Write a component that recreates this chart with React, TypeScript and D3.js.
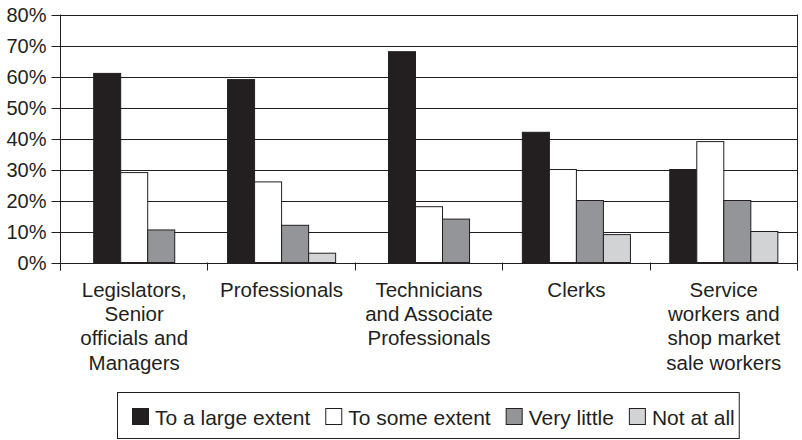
import React, { useEffect, useRef } from "react";
import * as d3 from "d3";

// Occupational groups along the x axis (one label line per array entry)
const categories: string[][] = [
  ["Legislators,", "Senior", "officials and", "Managers"],
  ["Professionals"],
  ["Technicians", "and Associate", "Professionals"],
  ["Clerks"],
  ["Service", "workers and", "shop market", "sale workers"],
];

const seriesNames = ["To a large extent", "To some extent", "Very little", "Not at all"];
const seriesColors = ["#231f20", "#ffffff", "#939598", "#d1d3d4"];

// Percentages per group; null means no bar for that group
const largeExtent: (number | null)[] = [61, 59, 68, 42, 30];
const someExtent: (number | null)[] = [29, 26, 18, 30, 39];
const veryLittle: (number | null)[] = [10.5, 12, 14, 20, 20];
const notAtAll: (number | null)[] = [null, 3, null, 9, 10];

const yTicks = [0, 10, 20, 30, 40, 50, 60, 70, 80];

const W = 802;
const H = 440;
const INK = "#231f20";
const FONT = "'Liberation Sans', Arial, Helvetica, sans-serif";

export default function App() {
  const ref = useRef<SVGSVGElement>(null);

  useEffect(() => {
    const svg = d3.select(ref.current!);
    svg.selectAll("*").remove();

    const left = 60.5;
    const right = 797.5;
    const top = 14.5;
    const bottom = 262.5;

    const series = [largeExtent, someExtent, veryLittle, notAtAll];
    const keys = categories.map((c) => c.join(" "));

    const x0 = d3.scaleBand<string>().domain(keys).range([left, right]).padding(0);
    const y = d3.scaleLinear().domain([0, 80]).range([bottom, top]);
    const barW = x0.bandwidth() * 0.1833;

    // horizontal gridlines with short outer ticks
    svg
      .append("g")
      .selectAll("line")
      .data(yTicks)
      .join("line")
      .attr("x1", left - 9)
      .attr("x2", right)
      .attr("y1", (d) => Math.round(y(d)) + 0.5)
      .attr("y2", (d) => Math.round(y(d)) + 0.5)
      .attr("stroke", INK)
      .attr("stroke-width", 1);

    // y tick labels
    svg
      .append("g")
      .selectAll("text")
      .data(yTicks)
      .join("text")
      .attr("x", left - 14)
      .attr("y", (d) => y(d))
      .attr("dy", "0.36em")
      .attr("text-anchor", "end")
      .attr("font-family", FONT)
      .attr("font-size", 20)
      .attr("fill", INK)
      .text((d) => `${d}%`);

    // bars, each group centred on its category using only the bars it has
    const barsG = svg.append("g");
    keys.forEach((k, ci) => {
      const present = series
        .map((s, si) => ({ si, v: s[ci] }))
        .filter((d) => d.v !== null) as { si: number; v: number }[];
      const center = (x0(k) as number) + x0.bandwidth() / 2;
      const x1 = d3
        .scaleBand<number>()
        .domain(present.map((d) => d.si))
        .range([center - (present.length * barW) / 2, center + (present.length * barW) / 2])
        .padding(0);
      barsG
        .append("g")
        .selectAll("rect")
        .data(present)
        .join("rect")
        .attr("x", (d) => x1(d.si) as number)
        .attr("width", x1.bandwidth())
        .attr("y", (d) => y(d.v))
        .attr("height", (d) => y(0) - y(d.v))
        .attr("fill", (d) => seriesColors[d.si])
        .attr("stroke", INK)
        .attr("stroke-width", 1);
    });

    // axes frame: left axis, right edge, category ticks
    const boundaries = [...keys.map((k) => x0(k) as number), right];
    svg
      .append("g")
      .selectAll("line")
      .data(boundaries)
      .join("line")
      .attr("x1", (d) => Math.round(d - 0.5) + 0.5)
      .attr("x2", (d) => Math.round(d - 0.5) + 0.5)
      .attr("y1", bottom)
      .attr("y2", bottom + 8)
      .attr("stroke", INK);
    svg
      .append("line")
      .attr("x1", left)
      .attr("x2", left)
      .attr("y1", top)
      .attr("y2", bottom + 8)
      .attr("stroke", INK);
    svg
      .append("line")
      .attr("x1", right)
      .attr("x2", right)
      .attr("y1", top)
      .attr("y2", bottom + 8)
      .attr("stroke", INK);
    svg
      .append("line")
      .attr("x1", left)
      .attr("x2", right)
      .attr("y1", Math.round(y(0)) + 0.5)
      .attr("y2", Math.round(y(0)) + 0.5)
      .attr("stroke", INK);

    // category labels
    const catG = svg.append("g");
    categories.forEach((lines, ci) => {
      const cx = (x0(keys[ci]) as number) + x0.bandwidth() / 2;
      const t = catG
        .append("text")
        .attr("text-anchor", "middle")
        .attr("font-family", FONT)
        .attr("font-size", 20.5)
        .attr("fill", INK);
      lines.forEach((ln, li) => {
        t.append("tspan").attr("x", cx).attr("y", 297 + li * 24.2).text(ln);
      });
    });

    // legend
    const legG = svg.append("g");
    const startX = 132;
    const sw = 16;
    let cursor = startX;
    seriesNames.forEach((name, i) => {
      legG
        .append("rect")
        .attr("x", cursor + 0.5)
        .attr("y", 408.5)
        .attr("width", sw)
        .attr("height", sw)
        .attr("fill", seriesColors[i])
        .attr("stroke", INK);
      const txt = legG
        .append("text")
        .attr("x", cursor + sw + 7)
        .attr("y", 424.5)
        .attr("font-family", FONT)
        .attr("font-size", 21)
        .attr("fill", INK)
        .text(name);
      const len = (txt.node() as SVGTextElement).getComputedTextLength();
      cursor = cursor + sw + 7 + len + (i < seriesNames.length - 1 ? 15 : 0);
    });
    legG
      .insert("rect", ":first-child")
      .attr("x", startX - 15 + 0.5)
      .attr("y", 392.5)
      .attr("width", cursor + 4 - (startX - 15))
      .attr("height", 46)
      .attr("fill", "#fff")
      .attr("stroke", INK);
  }, []);

  return (
    <svg
      ref={ref}
      width={W}
      height={H}
      viewBox={`0 0 ${W} ${H}`}
      style={{ position: "absolute", left: 0, top: 0, background: "#fff" }}
    />
  );
}
